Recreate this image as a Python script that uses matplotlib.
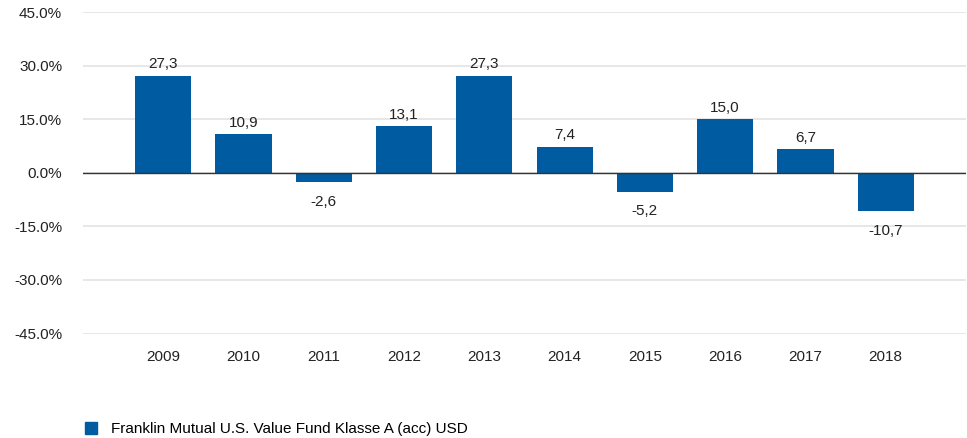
import matplotlib
matplotlib.use("Agg")
import matplotlib.pyplot as plt
from matplotlib.lines import Line2D

years = ["2009", "2010", "2011", "2012", "2013", "2014", "2015", "2016", "2017", "2018"]
returns = [27.3, 10.9, -2.6, 13.1, 27.3, 7.4, -5.2, 15.0, 6.7, -10.7]
yticks = [45, 30, 15, 0, -15, -30, -45]
series_name = "Franklin Mutual U.S. Value Fund Klasse A (acc) USD"

plt.rcParams['font.family'] = ['Liberation Sans', 'DejaVu Sans']
color = "#005BA1"
fs = 11

fig = plt.figure(figsize=(9.67, 4.38), dpi=100)
ax = fig.add_axes([83/967, 1 - 333.5/438, (966-83)/967, (333.5-12.5)/438])

x = list(range(len(years)))
ax.bar(x, returns, width=0.7, color=color, zorder=3)
ax.set_xlim(-1, 10)
ax.set_ylim(-45, 45)
ax.set_yticks(yticks)
ax.set_yticklabels([f"{v:.1f}%" for v in yticks], fontsize=fs, color="#222222")
ax.set_xticks(x)
ax.set_xticklabels(years, fontsize=fs, color="#222222")
ax.tick_params(axis='both', length=0)
ax.tick_params(axis='y', pad=15)
ax.tick_params(axis='x', pad=12)
for s in ax.spines.values():
    s.set_visible(False)
ax.grid(axis='y', color="#E3E3E3", linewidth=1.2, zorder=0)
ax.axhline(0, color="#333333", linewidth=1.0, zorder=4)

for xi, v in zip(x, returns):
    lbl = f"{v:.1f}".replace(".", ",")
    if v >= 0:
        ax.annotate(lbl, (xi, v), xytext=(0, 3), textcoords="offset points",
                    ha="center", va="bottom", fontsize=fs, color="#222222")
    else:
        ax.annotate(lbl, (xi, v), xytext=(0, -9), textcoords="offset points",
                    ha="center", va="top", fontsize=fs, color="#222222")

handle = Line2D([], [], marker='s', linestyle='none', markersize=8,
                markerfacecolor=color, markeredgecolor=color)
fig.legend([handle], [series_name], loc="center left",
           bbox_to_anchor=(70/967, 1 - 429/438), frameon=False,
           fontsize=fs, handletextpad=0.3, borderaxespad=0)

fig.savefig("out.png", dpi=100)
